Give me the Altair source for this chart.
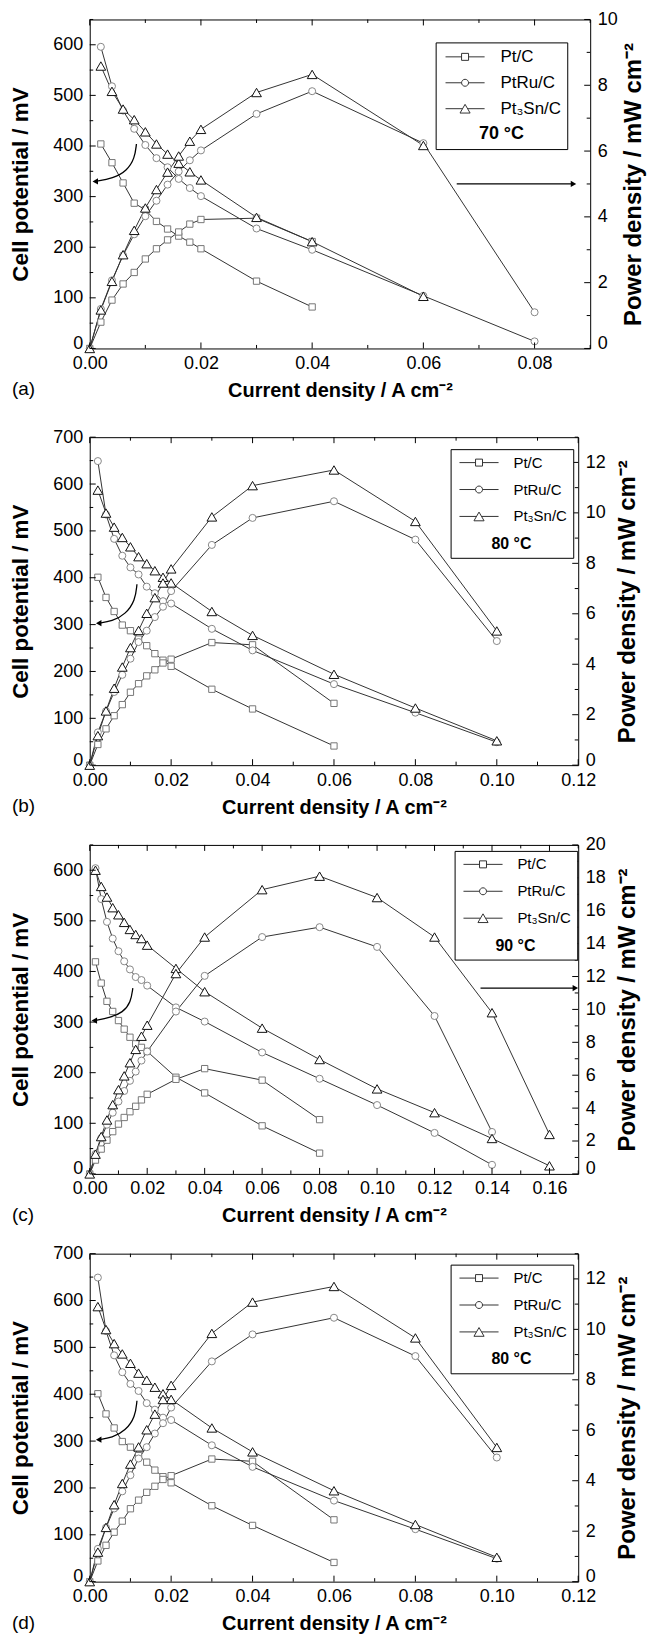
import altair as alt
import pandas as pd
import numpy as np

FONT = "Liberation Sans"
SERIES = ["Pt/C", "PtRu/C", "Pt₃Sn/C"]

# ---------------- panel (a) 70 C ----------------
a_I_pt = [0.002, 0.004, 0.006, 0.008, 0.010, 0.012, 0.014, 0.016, 0.018, 0.020, 0.030, 0.040]
a_V_pt = [404, 367, 327, 287, 274, 251, 236, 222, 210, 197, 133, 82]
a_P_pt = [0, 0.80, 1.47, 1.96, 2.31, 2.72, 3.03, 3.30, 3.54, 3.78, 3.92, 3.96, 3.25]
a_I_ru = [0.002, 0.004, 0.006, 0.008, 0.010, 0.012, 0.014, 0.016, 0.018, 0.020, 0.030, 0.040, 0.060, 0.080]
a_V_ru = [596, 518, 470, 434, 402, 376, 358, 335, 317, 301, 237, 195, 104, 14]
a_P_ru = [0, 1.20, 2.07, 2.83, 3.47, 4.02, 4.49, 4.98, 5.38, 5.72, 6.02, 7.13, 7.82, 6.24, 1.10]
a_I_sn = [0.002, 0.004, 0.006, 0.008, 0.010, 0.012, 0.014, 0.016, 0.018, 0.020, 0.030, 0.040, 0.060]
a_V_sn = [558, 508, 473, 452, 428, 404, 384, 366, 349, 333, 259, 211, 103]
a_P_sn = [0, 1.17, 2.04, 2.85, 3.59, 4.27, 4.83, 5.36, 5.85, 6.30, 6.66, 7.78, 8.33, 6.17]

# ---------------- panel (b) / (d) 80 C ----------------
b_I_pt = [0.002, 0.004, 0.006, 0.008, 0.010, 0.012, 0.014, 0.016, 0.018, 0.020, 0.030, 0.040, 0.060]
b_V_pt = [401, 358, 328, 299, 287, 269, 255, 238, 224, 211, 162, 120, 41]
b_P_pt = [0, 0.82, 1.44, 1.96, 2.40, 2.89, 3.23, 3.54, 3.78, 4.05, 4.20, 4.86, 4.77, 2.45]
b_I_ru = [0.002, 0.004, 0.006, 0.008, 0.010, 0.012, 0.014, 0.016, 0.018, 0.020, 0.030, 0.040, 0.060, 0.080, 0.100]
b_V_ru = [649, 535, 483, 447, 422, 407, 381, 367, 350, 345, 291, 245, 173, 112, 49]
b_P_ru = [0, 1.30, 2.14, 2.90, 3.58, 4.22, 4.88, 5.33, 5.87, 6.28, 6.90, 8.73, 9.80, 10.46, 8.94, 4.92]
b_I_sn = [0.002, 0.004, 0.006, 0.008, 0.010, 0.012, 0.014, 0.016, 0.018, 0.020, 0.030, 0.040, 0.060, 0.080, 0.100]
b_V_sn = [587, 538, 508, 486, 466, 445, 430, 415, 401, 389, 328, 277, 194, 122, 52]
b_P_sn = [0, 1.17, 2.15, 3.05, 3.89, 4.66, 5.34, 6.02, 6.64, 7.22, 7.78, 9.84, 11.08, 11.70, 9.66, 5.32]

# ---------------- panel (c) 90 C ----------------
c_I_pt = [0.002, 0.004, 0.006, 0.008, 0.010, 0.012, 0.014, 0.016, 0.018, 0.020, 0.030, 0.040, 0.060, 0.080]
c_V_pt = [419, 377, 341, 321, 303, 286, 270, 257, 250, 242, 191, 160, 95, 41]
c_P_pt = [0, 0.84, 1.51, 2.05, 2.57, 3.03, 3.43, 3.78, 4.11, 4.50, 4.84, 5.75, 6.40, 5.70, 3.30]
c_I_ru = [0.002, 0.004, 0.006, 0.008, 0.010, 0.012, 0.014, 0.016, 0.018, 0.020, 0.030, 0.040, 0.060, 0.080, 0.100, 0.120, 0.140]
c_V_ru = [604, 543, 498, 465, 440, 420, 404, 389, 383, 372, 329, 301, 240, 188, 136, 81, 18]
c_P_ru = [0, 1.21, 2.17, 2.99, 3.72, 4.40, 5.04, 5.66, 6.22, 6.89, 7.44, 9.87, 12.04, 14.40, 15.0, 13.8, 9.6, 2.55]
c_I_sn = [0.002, 0.004, 0.006, 0.008, 0.010, 0.012, 0.014, 0.016, 0.018, 0.020, 0.030, 0.040, 0.060, 0.080, 0.100, 0.120, 0.140, 0.160]
c_V_sn = [600, 568, 547, 526, 512, 497, 483, 473, 465, 452, 406, 360, 288, 226, 168, 121, 70, 16]
c_P_sn = [0, 1.20, 2.27, 3.28, 4.21, 5.12, 5.96, 6.76, 7.57, 8.37, 9.04, 12.18, 14.40, 17.28, 18.1, 16.8, 14.4, 9.8, 2.4]

# ---------------- annotation arrows ----------------
a_curve_I = [0.0084, 0.0081, 0.0067, 0.0042, 0.0010]
a_curve_V = [404, 376, 351, 336, 330]
b_curve_I = [0.0116, 0.0112, 0.0088, 0.0055, 0.0022]
b_curve_V = [386, 352, 322, 307, 303]
c_curve_I = [0.0150, 0.0143, 0.0115, 0.0073, 0.0016]
c_curve_V = [367, 339, 319, 309, 303]
a_arrow = (0.066, 0.087, 5.0)
c_arrow = (0.136, 0.169, 11.3)

MARK = {
    "Pt/C": dict(shape="square", stroke="#777777", size=40),
    "PtRu/C": dict(shape="circle", stroke="#888888", size=50),
    "Pt₃Sn/C": dict(shape="triangle-up", stroke="#111111", size=95),
}
LEG_PATHS = [
    "M-5.6,0L-1,0M1,0L5.6,0M-1,-1L1,-1L1,1L-1,1Z",
    "M-5.6,0L-1,0M1,0L5.6,0M-1,0A1,1 0 1,0 1,0A1,1 0 1,0 -1,0Z",
    "M-5.6,0L-0.75,0M0.75,0L5.6,0M0,-1.25L1.45,1.25L-1.45,1.25Z",
]
TICK_FS = 18
ZERO_BASE = {"condition": {"test": "datum.value === 0", "value": "alphabetic"}, "value": "middle"}


def panel(cur, pot, pw, xmax, vmax, pmax, W, H, temp, label, legxy,
          curve_I, curve_V, arrow, rtp, legfs, rowpad):
    xs = alt.Scale(domain=[0, xmax], nice=False, zero=True)
    ysl = alt.Scale(domain=[0, vmax], nice=False, zero=True)
    ysr = alt.Scale(domain=[0, pmax], nice=False, zero=True)
    rv, rp = [], []
    for s in SERIES:
        for i, v in zip(cur[s], pot[s]):
            rv.append(dict(series=s, I=i, V=v))
        for i, p in zip([0.0] + cur[s], pw[s]):
            rp.append(dict(series=s, I=i, P=p))
    dv = pd.DataFrame(rv)
    dp = pd.DataFrame(rp)

    nx = int(round(xmax / 0.01))
    xvals = [round(k * 0.01, 2) for k in range(nx + 1)]
    xmaj = [k % 2 == 0 for k in range(nx + 1)]
    lvals = list(range(0, vmax + 1, 50))
    lmaj = [v % 100 == 0 for v in lvals]
    rvals = list(range(0, pmax + 1))
    rmaj = [v % 2 == 0 for v in rvals]

    xaxis = alt.Axis(values=[v for v, m in zip(xvals, xmaj) if m], format=".2f", ticks=False,
                     domain=False, grid=False, labelPadding=6, labelFlush=False, labelColor="black",
                     labelFontSize=TICK_FS, labelFont=FONT,
                     title="Current density / A cm⁻²", titleFontSize=20, titleFontWeight="bold",
                     titleColor="black", titleFont=FONT, titlePadding=8)
    laxis = alt.Axis(values=[v for v, m in zip(lvals, lmaj) if m], ticks=False, domain=False,
                     grid=False, labelPadding=7, labelFlush=False, labelColor="black",
                     labelFontSize=TICK_FS, labelFont=FONT, labelBaseline=ZERO_BASE,
                     title="Cell potential / mV", titleFontSize=22.5, titleFontWeight="bold",
                     titleColor="black", titleFont=FONT, titlePadding=20)
    raxis = alt.Axis(orient="right", values=[v for v, m in zip(rvals, rmaj) if m], ticks=False,
                     domain=False, grid=False, labelPadding=7, labelFlush=False, labelColor="black",
                     labelFontSize=TICK_FS, labelFont=FONT, labelBaseline=ZERO_BASE,
                     title="Power density / mW cm⁻²", titleFontSize=24, titleFontWeight="bold",
                     titleColor="black", titleFont=FONT, titleAngle=270, titleBaseline="top",
                     titlePadding=rtp)

    def X(f="I:Q"):
        return alt.X(f, scale=xs, axis=xaxis)

    layers = []
    layers.append(alt.Chart(dv).mark_line(color="#333333", strokeWidth=1).encode(
        x=X(), y=alt.Y("V:Q", scale=ysl, axis=laxis), detail="series:N"))
    layers.append(alt.Chart(dp).mark_line(color="#333333", strokeWidth=1).encode(
        x=X(), y=alt.Y("P:Q", scale=ysr, axis=raxis), detail="series:N"))
    for s in SERIES:
        m = MARK[s]
        layers.append(alt.Chart(dv).transform_filter(alt.datum.series == s).mark_point(
            shape=m["shape"], size=m["size"], filled=True, fill="white", stroke=m["stroke"],
            strokeWidth=1, opacity=1).encode(x=X(), y=alt.Y("V:Q", scale=ysl, axis=None)))
        layers.append(alt.Chart(dp).transform_filter(alt.datum.series == s).mark_point(
            shape=m["shape"], size=m["size"], filled=True, fill="white", stroke=m["stroke"],
            strokeWidth=1, opacity=1).encode(x=X(), y=alt.Y("P:Q", scale=ysr, axis=None)))
    dcur = pd.DataFrame({"I": curve_I, "V": curve_V, "k": list(range(len(curve_I)))})
    layers.append(alt.Chart(dcur).mark_line(interpolate="basis", color="black", strokeWidth=1.3).encode(
        x=X(), y=alt.Y("V:Q", scale=ysl, axis=None), order="k:Q"))
    layers.append(alt.Chart(dcur).transform_filter(alt.datum.k == len(curve_I) - 1).mark_point(
        shape="triangle-left", filled=True, color="black", size=40, opacity=1).encode(
        x=X(), y=alt.Y("V:Q", scale=ysl, axis=None)))
    if arrow is not None:
        da = pd.DataFrame({"I": [arrow[0]], "I2": [arrow[1]], "P": [arrow[2]]})
        layers.append(alt.Chart(da).mark_rule(color="black", strokeWidth=1.2).encode(
            x=X(), x2="I2:Q", y=alt.Y("P:Q", scale=ysr, axis=None)))
        dh = pd.DataFrame({"I": [arrow[1]], "P": [arrow[2]]})
        layers.append(alt.Chart(dh).mark_point(shape="triangle-right", filled=True, color="black",
                                               size=40, opacity=1).encode(
            x=X(), y=alt.Y("P:Q", scale=ysr, axis=None)))
    layers.append(alt.Chart(dv).mark_point(opacity=0).encode(
        x=X(), y=alt.Y("V:Q", scale=ysl, axis=None),
        shape=alt.Shape("series:N", scale=alt.Scale(domain=SERIES, range=LEG_PATHS),
                        legend=alt.Legend(
                            title=temp, titleOrient="bottom", titleAnchor="middle",
                            titleFontSize=legfs + 1, titleFontWeight="bold", titleFont=FONT,
                            titleColor="black", titlePadding=rowpad,
                            orient="none", legendX=legxy[0], legendY=legxy[1],
                            strokeColor="black", fillColor="white", padding=6,
                            labelFontSize=legfs, labelFont=FONT, labelColor="black",
                            labelAlign="left", labelLimit=0, columns=1,
                            symbolSize=49, symbolStrokeColor="#333333", symbolFillColor="white",
                            symbolStrokeWidth=1, symbolOpacity=1, symbolOffset=15,
                            labelOffset=27, rowPadding=rowpad))))

    # inward tick marks on all four sides
    for is_major, L in [(True, 6), (False, 3.5)]:
        dxt = pd.DataFrame({"I": [v for v, m in zip(xvals, xmaj) if m == is_major]})
        bx = alt.Chart(dxt).mark_rule(color="black", strokeWidth=1)
        layers.append(bx.encode(x=X(), y=alt.value(H), y2=alt.value(H - L)))
        layers.append(bx.encode(x=X(), y=alt.value(0), y2=alt.value(L)))
        dl = pd.DataFrame({"V": [v for v, m in zip(lvals, lmaj) if m == is_major]})
        layers.append(alt.Chart(dl).mark_rule(color="black", strokeWidth=1).encode(
            y=alt.Y("V:Q", scale=ysl, axis=None), x=alt.value(0), x2=alt.value(L)))
        dr = pd.DataFrame({"P": [v for v, m in zip(rvals, rmaj) if m == is_major]})
        layers.append(alt.Chart(dr).mark_rule(color="black", strokeWidth=1).encode(
            y=alt.Y("P:Q", scale=ysr, axis=None), x=alt.value(W), x2=alt.value(W - L)))

    return alt.layer(*layers).resolve_scale(y="independent").properties(
        width=W, height=H,
        title=alt.TitleParams(label, orient="bottom", anchor="start", frame="group", dx=-78,
                              dy=-20, fontSize=19, fontWeight="normal", font=FONT,
                              color="black", offset=0))


def d3(a, b, c):
    return dict(zip(SERIES, [a, b, c]))


pa = panel(d3(a_I_pt, a_I_ru, a_I_sn), d3(a_V_pt, a_V_ru, a_V_sn), d3(a_P_pt, a_P_ru, a_P_sn),
           0.09, 650, 10, 502, 330, "70 °C", "(a)", (347, 23), a_curve_I, a_curve_V, a_arrow, 4,
           17, 8)
pb = panel(d3(b_I_pt, b_I_ru, b_I_sn), d3(b_V_pt, b_V_ru, b_V_sn), d3(b_P_pt, b_P_ru, b_P_sn),
           0.12, 700, 13, 490, 329, "80 °C", "(b)", (362, 12), b_curve_I, b_curve_V, None, 10,
           15, 11)
pc = panel(d3(c_I_pt, c_I_ru, c_I_sn), d3(c_V_pt, c_V_ru, c_V_sn), d3(c_P_pt, c_P_ru, c_P_sn),
           0.17, 650, 20, 490, 330, "90 °C", "(c)", (366, 6), c_curve_I, c_curve_V, c_arrow, 10,
           15, 11)
pd_ = panel(d3(b_I_pt, b_I_ru, b_I_sn), d3(b_V_pt, b_V_ru, b_V_sn), d3(b_P_pt, b_P_ru, b_P_sn),
            0.12, 700, 13, 490, 329, "80 °C", "(d)", (362, 11), b_curve_I, b_curve_V, None, 10,
            15, 11)

inner = alt.vconcat(pb, pc, pd_, spacing=80, bounds="flush").resolve_scale(
    shape="independent").resolve_legend(shape="independent")
chart = alt.vconcat(pa, inner, spacing=89, bounds="flush").resolve_scale(
    shape="independent").resolve_legend(shape="independent").properties(
    padding={"left": 9, "top": 7, "right": 2, "bottom": 3}, background="white"
).configure_view(stroke="black", strokeWidth=1).configure_axis(
    grid=False, labelFont=FONT, titleFont=FONT, labelColor="black", titleColor="black",
    labelFontSize=TICK_FS
).configure_legend(labelFont=FONT, titleFont=FONT)

chart.save("out.html", embed_options={"renderer": "svg", "actions": False})
